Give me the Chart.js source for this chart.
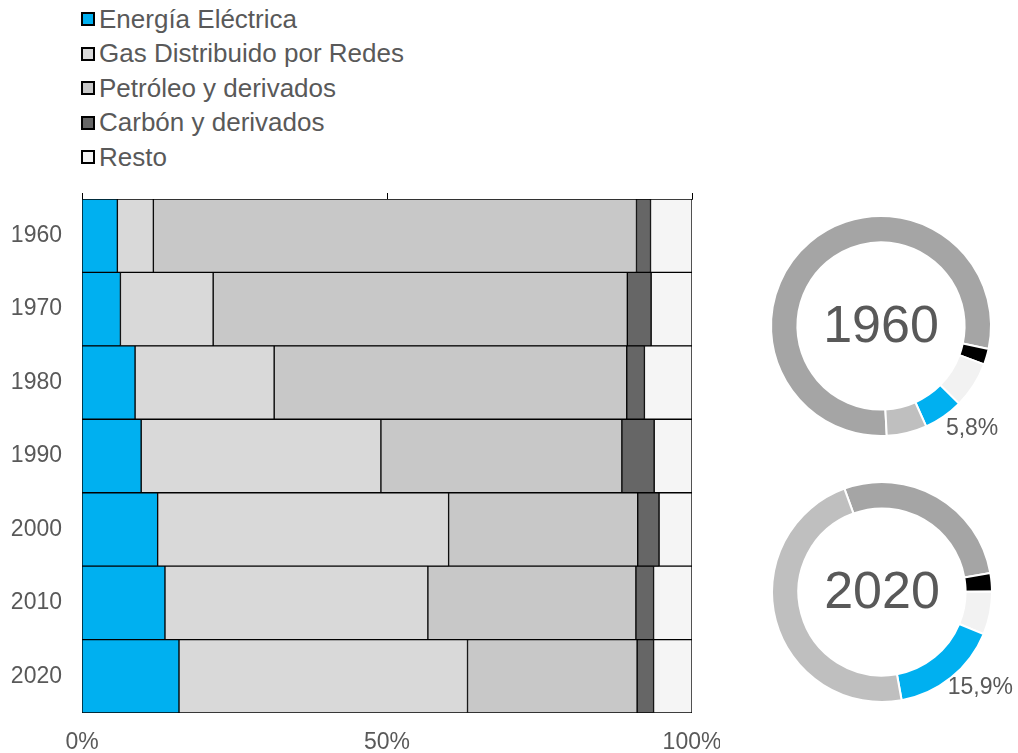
<!DOCTYPE html>
<html lang="es">
<head>
<meta charset="utf-8">
<title>Consumo final de energía por fuente</title>
<script src="https://cdn.jsdelivr.net/npm/chart.js@4.4.1/dist/chart.umd.min.js"></script>
<style>
    html, body { margin: 0; padding: 0; background: #fff; }
    body {
        width: 1018px; height: 753px; position: relative; overflow: hidden;
        font-family: "Liberation Sans", Arial, sans-serif; color: #595959;
    }
    #legend { position: absolute; left: 81px; top: 2px; }
    #legend .item { height: 34.5px; font-size: 26px; display: flex; align-items: center; white-space: nowrap; }
    #legend .box { width: 10px; height: 10px; border: 2px solid #000; margin-right: 4px; flex: none; }
    #bars { position: absolute; left: 0; top: 180px; }
    #d1960 { position: absolute; left: 761px; top: 206px; }
    #d2020 { position: absolute; left: 762px; top: 472px; }
</style>
</head>
<body>
<div id="legend"></div>
<canvas id="bars" width="720" height="573"></canvas>
<canvas id="d1960" width="256" height="240"></canvas>
<canvas id="d2020" width="256" height="240"></canvas>

<script>
const years = ['1960', '1970', '1980', '1990', '2000', '2010', '2020'];
const electrica = [5.8, 6.3, 8.7, 9.7, 12.4, 13.6, 15.9];
const gas = [5.9, 15.2, 22.8, 39.3, 47.7, 43.1, 47.3];
const petroleo = [79.2, 67.9, 57.8, 39.5, 31.0, 34.1, 27.8];
const carbon = [2.3, 3.9, 2.9, 5.3, 3.5, 2.9, 2.7];
const resto = [6.8, 6.7, 7.8, 6.2, 5.4, 6.3, 6.3];
const xTicks = [0, 50, 100];

const font = '"Liberation Sans", Arial, sans-serif';
Chart.defaults.font.family = font;
Chart.defaults.color = '#595959';

const series = [
    { label: 'Energía Eléctrica', data: electrica, color: '#00B0F0' },
    { label: 'Gas Distribuido por Redes', data: gas, color: '#D9D9D9' },
    { label: 'Petróleo y derivados', data: petroleo, color: '#C8C8C8' },
    { label: 'Carbón y derivados', data: carbon, color: '#666666' },
    { label: 'Resto', data: resto, color: '#F5F5F5' }
];

// legend
document.getElementById('legend').innerHTML = series.map(s => `
    <div class="item"><span class="box" style="background:${s.color}"></span>${s.label}</div>
`).join('');

new Chart(document.getElementById('bars'), {
    type: 'bar',
    data: {
        labels: years,
        datasets: series.map(s => ({
            label: s.label,
            data: s.data,
            backgroundColor: s.color,
            borderColor: '#000',
            borderWidth: 1,
            borderSkipped: false,
            categoryPercentage: 1,
            barPercentage: 1
        }))
    },
    options: {
        indexAxis: 'y',
        responsive: false,
        animation: false,
        layout: { padding: { left: 0, right: 28, top: 0, bottom: 0 } },
        plugins: { legend: { display: false }, tooltip: { enabled: false } },
        scales: {
            x: {
                stacked: true, min: 0, max: 100, position: 'bottom',
                grid: { display: false, drawTicks: false },
                border: { display: false },
                afterBuildTicks: s => { s.ticks = xTicks.map(v => ({ value: v })); },
                ticks: { padding: 16, font: { size: 23 }, maxRotation: 0, callback: v => v + '%' },
                afterFit: s => { s.height = 40; s.paddingLeft = 0; s.paddingRight = 0; }
            },
            x2: {
                position: 'top', min: 0, max: 100,
                grid: { drawOnChartArea: false, drawTicks: true, tickLength: 6, color: '#000', lineWidth: 1 },
                border: { display: true, color: '#404040', width: 1 },
                afterBuildTicks: s => { s.ticks = xTicks.map(v => ({ value: v })); },
                ticks: { display: false },
                afterFit: s => { s.height = 19; s.paddingLeft = 0; s.paddingRight = 0; }
            },
            y: {
                stacked: true,
                grid: { display: false, drawTicks: false },
                border: { display: false },
                ticks: { padding: 20, font: { size: 23 } },
                afterFit: s => { s.width = 82; s.paddingTop = 0; s.paddingBottom = 0; }
            }
        }
    }
});

// doughnuts: petróleo, carbón, resto, eléctrica, gas (clockwise)
const ringColors = ['#A5A5A5', '#000000', '#F2F2F2', '#00B0F0', '#BFBFBF'];
const ringRotation = { '1960': 177, '2020': -20 };

const ringText = {
    id: 'ringText',
    afterDatasetsDraw(chart, args, opts) {
        const arc = chart.getDatasetMeta(0).data[3];
        const ctx = chart.ctx;
        ctx.save();
        ctx.fillStyle = '#595959';
        ctx.textAlign = 'center';
        ctx.textBaseline = 'middle';
        ctx.font = '52px ' + font;
        ctx.fillText(opts.year, arc.x, arc.y + 2);
        const mid = (arc.startAngle + arc.endAngle) / 2 - 7 * Math.PI / 180;
        const r = arc.outerRadius + 27;
        ctx.font = '23px ' + font;
        ctx.fillText(opts.pct, arc.x + r * Math.cos(mid), arc.y + r * Math.sin(mid));
        ctx.restore();
    }
};

function drawRing(id, year) {
    const i = years.indexOf(year);
    new Chart(document.getElementById(id), {
        type: 'doughnut',
        data: {
            labels: ['Petróleo y derivados', 'Carbón y derivados', 'Resto', 'Energía Eléctrica', 'Gas Distribuido por Redes'],
            datasets: [{
                data: [petroleo[i], carbon[i], resto[i], electrica[i], gas[i]],
                backgroundColor: ringColors,
                borderColor: '#fff',
                borderWidth: 2,
                hoverOffset: 0
            }]
        },
        options: {
            responsive: false,
            animation: false,
            cutout: '76%',
            rotation: ringRotation[year],
            layout: { padding: { left: 9, right: 25, top: 9, bottom: 9 } },
            plugins: {
                legend: { display: false },
                tooltip: { enabled: false },
                ringText: { year: year, pct: electrica[i].toFixed(1).replace('.', ',') + '%' }
            }
        },
        plugins: [ringText]
    });
}

drawRing('d1960', '1960');
drawRing('d2020', '2020');
</script>
</body>
</html>
